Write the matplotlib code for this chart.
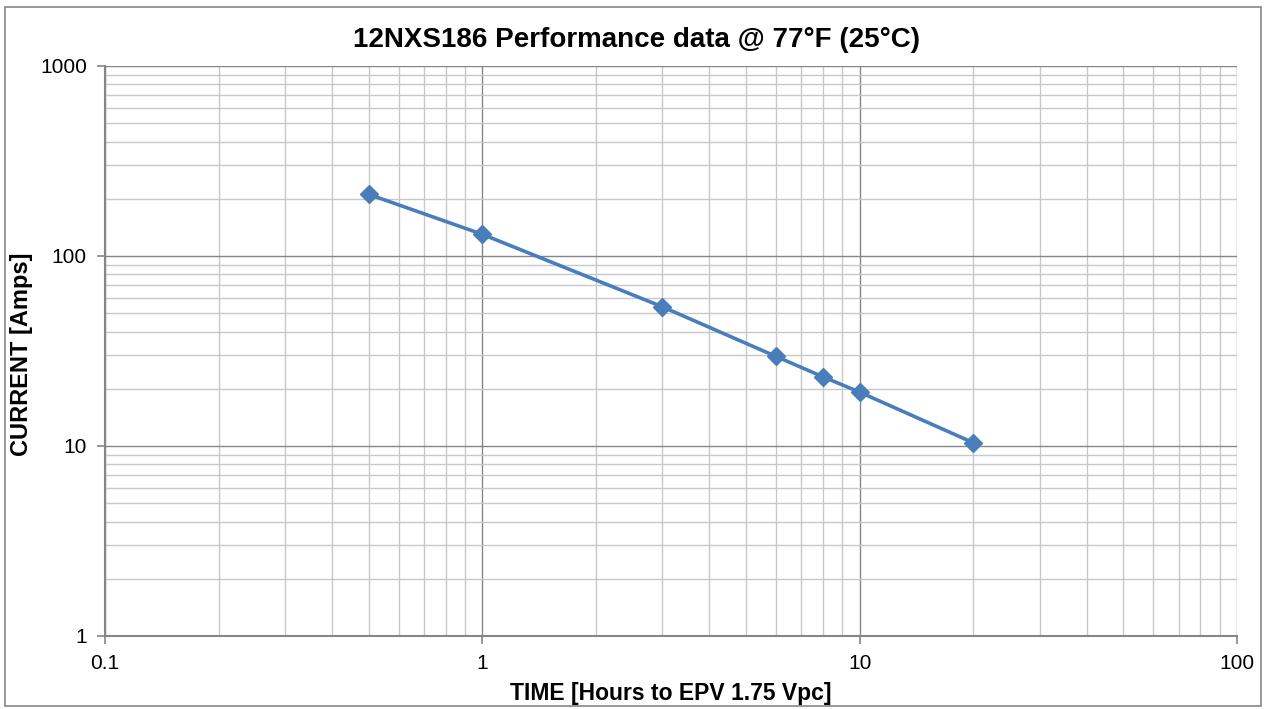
import matplotlib.pyplot as plt
from matplotlib.patches import Rectangle
from matplotlib.ticker import LogLocator, FixedFormatter, FixedLocator, NullFormatter

# Discharge data
hours = [0.5, 1, 3, 6, 8, 10, 20]
amps = [211, 130, 54, 29.6, 23.1, 19.2, 10.4]

x_ticks = [0.1, 1, 10, 100]
x_tick_labels = ['0.1', '1', '10', '100']
y_ticks = [1, 10, 100, 1000]
y_tick_labels = ['1', '10', '100', '1000']

plt.rcParams['font.family'] = ['Liberation Sans', 'DejaVu Sans']

fig = plt.figure(figsize=(12.66, 7.09), dpi=100)
ax = fig.add_axes([0.0829, 0.103, 0.8942, 0.804])

# Outer chart border
fig.patches.append(Rectangle((0.004, 0.004), 0.992, 0.986, transform=fig.transFigure,
                             fill=False, edgecolor='#868686', linewidth=1.2))

ax.plot(hours, amps, color='#4a7ebb', linewidth=2.6, marker='D', markersize=9,
        markeredgecolor='#4a7ebb', markerfacecolor='#4a7ebb', zorder=5)

ax.set_xscale('log')
ax.set_yscale('log')
ax.set_xlim(0.1, 100)
ax.set_ylim(1, 1000)

ax.xaxis.set_major_locator(FixedLocator(x_ticks))
ax.xaxis.set_major_formatter(FixedFormatter(x_tick_labels))
ax.yaxis.set_major_locator(FixedLocator(y_ticks))
ax.yaxis.set_major_formatter(FixedFormatter(y_tick_labels))
ax.xaxis.set_minor_locator(LogLocator(base=10, subs=range(2, 10), numticks=20))
ax.yaxis.set_minor_locator(LogLocator(base=10, subs=range(2, 10), numticks=20))
ax.xaxis.set_minor_formatter(NullFormatter())
ax.yaxis.set_minor_formatter(NullFormatter())

ax.grid(which='major', color='#868686', linewidth=1.0)
ax.grid(which='minor', color='#c8c8c8', linewidth=1.0)
ax.set_axisbelow(True)

ax.tick_params(which='major', length=6, width=1.2, color='#868686', labelsize=15, pad=7)
ax.tick_params(which='minor', length=0)

for side in ['top', 'right']:
    ax.spines[side].set_visible(False)
for side in ['left', 'bottom']:
    ax.spines[side].set_color('#868686')
    ax.spines[side].set_linewidth(1.5)

# title is centred on the whole chart, not the plot area
fig.text(0.5025, 0.943, '12NXS186 Performance data @ 77°F (25°C)', fontsize=20,
         fontweight='bold', ha='center', va='center')
ax.set_xlabel('TIME [Hours to EPV 1.75 Vpc]', fontsize=16.5, fontweight='bold')
ax.xaxis.set_label_coords(0.5, -0.08)
ax.set_ylabel('CURRENT [Amps]', fontsize=17, fontweight='bold')
ax.yaxis.set_label_coords(-0.0636, 0.494)

fig.savefig('out.png', dpi=100)
